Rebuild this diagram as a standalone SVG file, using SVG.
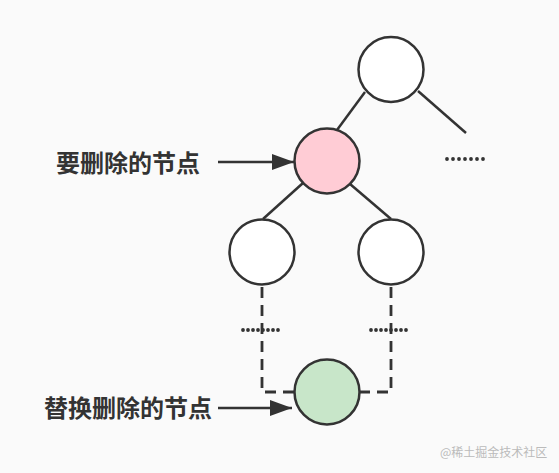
<svg xmlns="http://www.w3.org/2000/svg" width="559" height="473" viewBox="0 0 559 473">
<defs>
<style>
.node{stroke:#333;stroke-width:2.5}
.edge{stroke:#333;stroke-width:2.5;fill:none}
.dash{stroke:#333;stroke-width:2.8;fill:none;stroke-dasharray:11 7}
.dots{stroke:#333;stroke-width:3.8;stroke-linecap:round;stroke-dasharray:0 5;fill:none}
.lbl{font-family:"Noto Sans CJK SC","Noto Sans",sans-serif;font-weight:bold;font-size:24px;fill:#333}
</style>
<marker id="arr" viewBox="0 0 10 10" refX="10" refY="5" markerWidth="22" markerHeight="16" markerUnits="userSpaceOnUse" orient="auto" preserveAspectRatio="none">
<path d="M0,0 L10,5 L0,10 Z" fill="#333"/>
</marker>
</defs>
<rect width="559" height="473" fill="#fafafa"/>
<g id="connectors">
<line class="edge" x1="365" y1="92" x2="337" y2="130"/>
<line class="edge" x1="418" y1="91" x2="466" y2="133"/>
<line class="edge" x1="303" y1="183" x2="263" y2="219"/>
<line class="edge" x1="350" y1="184" x2="391" y2="219"/>
<polyline class="dash" points="262,287 262,392 294,392"/>
<polyline class="dash" points="391,287 391,392 360,392"/>
<line class="dots" x1="447" y1="159" x2="484" y2="159" style="stroke-dasharray:0 6"/>
<line class="dots" x1="243" y1="330" x2="283" y2="330"/>
<line class="dots" x1="371" y1="330" x2="411" y2="330"/>
<line class="edge" x1="218" y1="162" x2="294" y2="162" marker-end="url(#arr)"/>
<line class="edge" x1="218" y1="408" x2="292" y2="408" marker-end="url(#arr)"/>
</g>
<g id="root"><circle class="node" cx="391" cy="69.5" r="32.5" fill="#fff"/></g>
<g id="delete-node"><circle class="node" cx="327" cy="161" r="32.5" fill="#ffccd5"/></g>
<g id="left-child"><circle class="node" cx="262" cy="252" r="32.5" fill="#fff"/></g>
<g id="right-child"><circle class="node" cx="391" cy="252" r="32.5" fill="#fff"/></g>
<g id="replace-node"><circle class="node" cx="327" cy="392" r="32.5" fill="#c8e6c9"/></g>
<g id="labels">
<text class="lbl" x="56" y="172">要删除的节点</text>
<text class="lbl" x="44" y="417">替换删除的节点</text>
<text x="440" y="457" font-family="Noto Sans CJK SC,Noto Sans,sans-serif" font-size="12" fill="#bbb">@稀土掘金技术社区</text>
</g>
</svg>
